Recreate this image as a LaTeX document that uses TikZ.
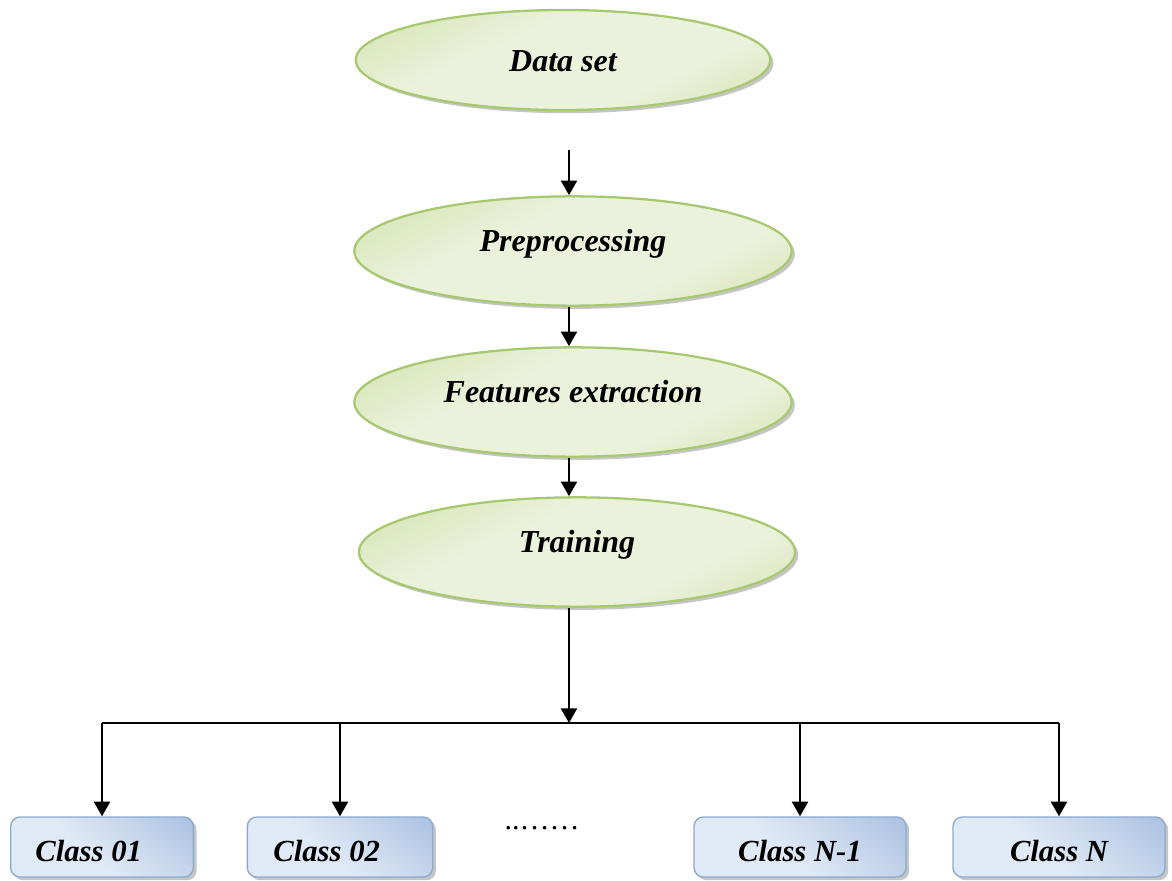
\documentclass[tikz,border=0pt]{standalone}
\usepackage{fontspec}
\setmainfont{Liberation Serif}
\usetikzlibrary{arrows.meta,shapes.geometric,shadows}

% palette
\definecolor{leafLight}{RGB}{235,242,220}
\definecolor{leafDark}{RGB}{192,214,142}
\definecolor{leafEdge}{RGB}{168,200,112}
\definecolor{skyLight}{RGB}{224,233,246}
\definecolor{skyDark}{RGB}{150,179,217}
\definecolor{skyEdge}{RGB}{140,169,207}

% soft gradients for the stages and the class boxes
\pgfdeclareverticalshading{leafshade}{100bp}{color(0bp)=(leafDark); color(35bp)=(leafLight); color(60bp)=(leafLight); color(100bp)=(leafDark)}
\pgfdeclareverticalshading{skyshade}{100bp}{color(0bp)=(skyLight); color(45bp)=(skyLight); color(100bp)=(skyDark)}

\tikzset{
  stage/.style={ellipse, draw=leafEdge, line width=1.7pt, shade, shading=leafshade, shading angle=25,
    drop shadow={shadow xshift=2.4pt, shadow yshift=-2.4pt, fill=black!45},
    inner sep=0pt, font=\bfseries\itshape\fontsize{24}{28}\selectfont},
  classbox/.style={rectangle, rounded corners=7pt, draw=skyEdge, line width=1pt, shade, shading=skyshade, shading angle=-40,
    drop shadow={shadow xshift=2.4pt, shadow yshift=-2.4pt, fill=black!45},
    inner sep=0pt, minimum height=45pt, font=\bfseries\itshape\fontsize{23}{27}\selectfont},
  flow/.style={-{Triangle[width=12pt,length=11pt]}, line width=1.8pt},
  wire/.style={line width=1.8pt}
}

\begin{document}
\begin{tikzpicture}[x=0.75pt, y=-0.75pt]
  \useasboundingbox (0,0) rectangle (1172,881);

  % processing chain
  \node[stage, minimum width=311pt, minimum height=75pt] (ds) at (563,60)  {\smash{\raisebox{-9pt}{Data set}}};
  \node[stage, minimum width=328pt, minimum height=82pt] (pp) at (573,251) {\smash{Preprocessing}};
  \node[stage, minimum width=328pt, minimum height=82pt] (fe) at (573,402) {\smash{Features extraction}};
  \node[stage, minimum width=327pt, minimum height=82pt] (tr) at (577,552) {\smash{Training}};

  % output classes
  \node[classbox, minimum width=137pt] (c1) at (102,847)  {\smash{\raisebox{-11pt}{Class 01}}\kern20pt};
  \node[classbox, minimum width=139pt] (c2) at (340,847)  {\smash{\raisebox{-11pt}{Class 02}}\kern20pt};
  \node[classbox, minimum width=159pt] (c3) at (800,847)  {\smash{\raisebox{-11pt}{Class N-1}}};
  \node[classbox, minimum width=159pt] (c4) at (1059,847) {\smash{\raisebox{-11pt}{Class N}}};
  \node[anchor=base, inner sep=0pt, font=\fontsize{22.5}{27}\selectfont] (more) at (542,829) {..……};

  % connectors
  \coordinate (ax)  at (569,0);
  \coordinate (bus) at (569,723);
  \draw[flow, shorten <=29pt] (ds.south -| ax) -- (pp.north -| ax);
  \draw[flow] (pp.south -| ax) -- (fe.north -| ax);
  \draw[flow] (fe.south -| ax) -- (tr.north -| ax);
  \draw[flow] (tr.south -| ax) -- (bus);
  \draw[wire] (c1.north |- bus) -- (c4.north |- bus);
  \foreach \c in {c1,c2,c3,c4}
    \draw[flow] (\c.north |- bus) -- (\c.north);
\end{tikzpicture}
\end{document}
